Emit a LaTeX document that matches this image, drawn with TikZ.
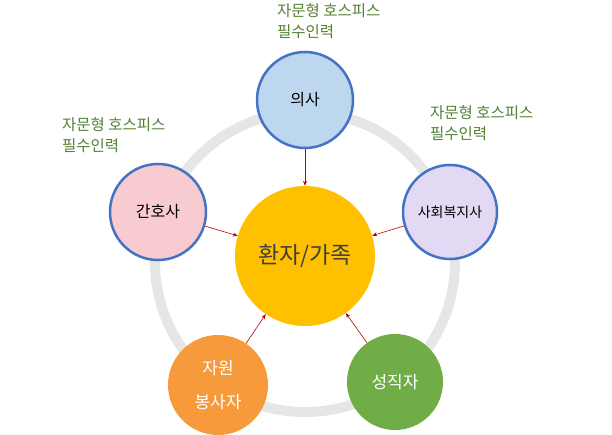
\documentclass[tikz,border=0pt]{standalone}
\usepackage{fontspec}
\setmainfont{Noto Sans CJK KR}
\usetikzlibrary{arrows.meta}
\definecolor{ring}{HTML}{E6E6E6}
\definecolor{edge}{HTML}{4472C4}
\definecolor{lbl}{HTML}{548235}
\definecolor{arr}{HTML}{C00000}
\tikzset{
 role/.style={circle,draw=edge,line width=2.5pt,minimum size=#1,inner sep=0pt,font=\fontsize{16}{18}\selectfont},
 note/.style={text=lbl,align=left,anchor=north west,inner sep=0pt,font=\fontsize{15.5}{21}\selectfont},
 link/.style={arr,-{Stealth[length=5pt,width=4pt]},line width=0.6pt}
}
\begin{document}
\begin{tikzpicture}[x=1pt,y=-1pt]
\useasboundingbox (0,0) rectangle (612,435);
\fill[white] (0,0) rectangle (612,435);
\draw[ring,line width=10pt] (305,262) circle (150);
\node[circle,fill={rgb,255:red,255;green,192;blue,0},minimum size=140pt,inner sep=0pt,font=\fontsize{23}{25}\selectfont,text={rgb,255:red,64;green,64;blue,64}] (c) at (305,256) {환자/가족};
\node[role=96pt,fill={rgb,255:red,189;green,215;blue,238}] (d) at (305,100) {의사};
\node[role=96pt,fill={rgb,255:red,248;green,203;blue,208}] (n) at (158,212) {간호사};
\node[role=94pt,fill={rgb,255:red,228;green,217;blue,245},font=\fontsize{14}{16}\selectfont] (s) at (450,212) {사회복지사};
\node[circle,minimum size=100pt,inner sep=0pt,fill={rgb,255:red,247;green,154;blue,59},text=white,align=center,font=\fontsize{17}{34}\selectfont] (v) at (218,385) {자원\\봉사자};
\node[circle,minimum size=96pt,inner sep=0pt,fill={rgb,255:red,112;green,173;blue,71},text=white,font=\fontsize{17}{19}\selectfont] (p) at (395,382) {성직자};
\node[note] (t1) at (277,3) {자문형 호스피스\\필수인력};
\node[note] (t2) at (62,117) {자문형 호스피스\\필수인력};
\node[note] (t3) at (430,105) {자문형 호스피스\\필수인력};
\draw[link] (d) -- (c);
\draw[link] (n) -- (c);
\draw[link] (s) -- (c);
\draw[link] (v) -- (c);
\draw[link] (p) -- (c);
\end{tikzpicture}
\end{document}
